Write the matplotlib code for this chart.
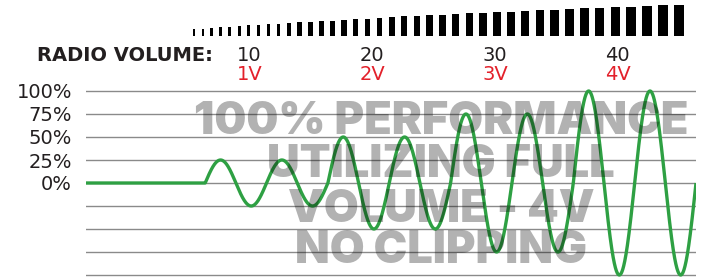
import numpy as np
import matplotlib.pyplot as plt
from matplotlib.patches import Rectangle

# Data
volume_ticks = [10, 20, 30, 40]
voltage_labels = ["1V", "2V", "3V", "4V"]
percent_ticks = [0, 0.25, 0.5, 0.75, 1.0]
percent_labels = ["0%", "25%", "50%", "75%", "100%"]
grid_levels = [-1.0, -0.75, -0.5, -0.25, 0, 0.25, 0.5, 0.75, 1.0]
cycle_amplitudes = [0.25, 0.25, 0.5, 0.5, 0.75, 0.75, 1.0, 1.0]
wave_start = 6.39   # volume where the signal starts
cycle_len = 5.0     # volume units per cycle
meter_levels = [0.21, 0.23, 0.25, 0.27, 0.29, 0.31, 0.33, 0.35, 0.37, 0.39,
                0.41, 0.43, 0.45, 0.47, 0.49, 0.51, 0.54, 0.55, 0.57, 0.59,
                0.62, 0.64, 0.66, 0.68, 0.70, 0.72, 0.74, 0.76, 0.78, 0.80,
                0.82, 0.84, 0.86, 0.88, 0.90, 0.92, 0.94, 0.96, 0.98, 1.0]
watermark = ["100% PERFORMANCE", "UTILIZING FULL", "VOLUME - 4V", "NO CLIPPING"]

DARK = "#231f20"
RED = "#e3202a"
GREEN = "#2ea043"

W, H = 717, 278
fig = plt.figure(figsize=(W / 100, H / 100), dpi=100)
ax = fig.add_axes([86 / W, 0, 610 / W, 1])

# pixel <-> data mapping (12.27 px per volume step, 92 px per 100%)
px_per_vol = 12.27
px_per_unit = 92.0
ax.set_xlim(10 + (86 - 249.5) / px_per_vol, 10 + (696 - 249.5) / px_per_vol)
ax.set_ylim((183 - H) / px_per_unit, 183 / px_per_unit)

for s in ax.spines.values():
    s.set_visible(False)
ax.set_xticks([])
ax.set_yticks(percent_ticks)
ax.set_yticklabels(percent_labels, fontsize=14, color=DARK)
ax.tick_params(axis="y", length=0, pad=10)

for g in grid_levels:
    ax.axhline(g, color="#8a8a8a", lw=1.0, zorder=1)

# signal
x0, x1 = ax.get_xlim()
t = np.linspace(x0, x1, 4000)
phase = (t - wave_start) / cycle_len
idx = np.clip(np.floor(phase).astype(int), 0, len(cycle_amplitudes) - 1)
amps = np.array(cycle_amplitudes)[idx]
y = np.where(phase < 0, 0.0, amps * np.sin(2 * np.pi * phase))
ax.plot(t, y, color=GREEN, lw=2.4, zorder=2, solid_capstyle="butt")

# volume meter
widths_px = np.linspace(2, 10, len(meter_levels))
gap_px = 6.44
centers = [194.3]
for i in range(1, len(meter_levels)):
    centers.append(centers[-1] + widths_px[i - 1] / 2 + gap_px + widths_px[i] / 2)
meter_base = (183 - 35.7) / px_per_unit
meter_full = 31 / px_per_unit
for c, w, lv in zip(centers, widths_px, meter_levels):
    xv = 10 + (c - 249.5) / px_per_vol
    wv = w / px_per_vol
    ax.add_patch(Rectangle((xv - wv / 2, meter_base), wv, lv * meter_full,
                           color="black", lw=0, clip_on=False, zorder=3))

# header
ax.text(10 + (37 - 249.5) / px_per_vol, (183 - 61) / px_per_unit, "RADIO VOLUME:",
        fontsize=14, fontweight="bold", color=DARK, ha="left", va="baseline",
        clip_on=False)
for v, lab in zip(volume_ticks, voltage_labels):
    ax.text(v, (183 - 61) / px_per_unit, str(v), fontsize=14, color=DARK,
            ha="center", va="baseline")
    ax.text(v, (183 - 80) / px_per_unit, lab, fontsize=14, color=RED,
            ha="center", va="baseline")

# watermark text over everything
for line, base in zip(watermark, [134, 177, 222, 263]):
    ax.text(10 + (441 - 249.5) / px_per_vol, (183 - base) / px_per_unit, line,
            fontsize=32.5, family="Inter", fontweight=900, color="black", alpha=0.3,
            ha="center", va="baseline", zorder=5)

fig.savefig("out.png", dpi=100)
